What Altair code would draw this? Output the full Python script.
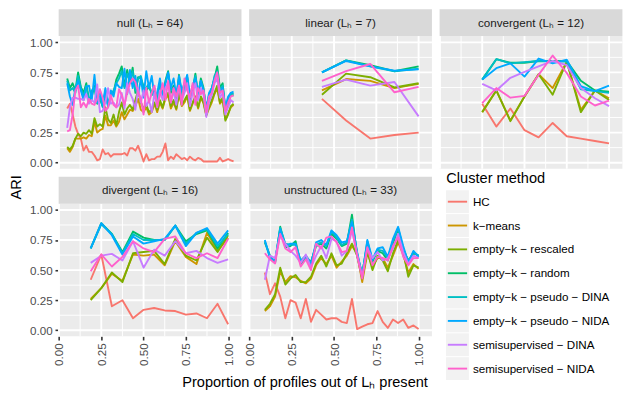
import altair as alt
import pandas as pd

# ---------------- categories ----------------
METHODS = ["HC", "k−means", "empty−k − rescaled", "empty−k − random",
           "empty−k − pseudo − DINA", "empty−k − pseudo − NIDA",
           "semisupervised − DINA", "semisupervised − NIDA"]
COLORS = ["#F8766D", "#CD9600", "#7CAE00", "#00BE67",
          "#00BFC4", "#00A9FF", "#C77CFF", "#FF61CC"]

PANEL_KEYS = ["null", "linear", "convergent", "divergent", "unstructured"]
PANEL_TITLES = ["null (Lₕ = 64)", "linear (Lₕ = 7)", "convergent (Lₕ = 12)",
                "divergent (Lₕ = 16)", "unstructured (Lₕ = 33)"]
# number of profiles present runs from K_START to K_MAX; proportion = k / denominator
K_START = 3
PANEL_K_MAX = [64, 7, 12, 16, 33]
PANEL_DENOM = [62, 7, 12, 16, 33]

X_TICKS = [0, 0.25, 0.5, 0.75, 1.0]
X_MINOR = [0.125, 0.375, 0.625, 0.875]
Y_TICKS = [0, 0.25, 0.5, 0.75, 1.0]
Y_MINOR = [0.125, 0.375, 0.625, 0.875]

# ---------------- null (k = 3..64) ----------------
null_hc = [0.45, 0.49, 0.40, 0.30, 0.24, 0.20, 0.10, 0.14, 0.09, 0.09,
           0.06, 0.02, 0.03, 0.11, 0.07, 0.08, 0.05, 0.07, 0.07, 0.07,
           0.07, 0.08, 0.06, 0.12, 0.12, 0.10, 0.14, 0.08, 0.01, 0.07,
           0.02, 0.03, 0.03, 0.05, 0.05, 0.09, 0.16, 0.02, 0.05, 0.03,
           0.07, 0.05, 0.03, 0.04, 0.02, 0.05, 0.03, 0.02, 0.04, 0.03,
           0.01, 0.01, 0.01, 0.01, 0.01, 0.01, 0.04, 0.01, 0.02, 0.03,
           0.02, 0.01]
null_kmeans = [0.12, 0.09, 0.13, 0.20, 0.20, 0.20, 0.21, 0.20, 0.23, 0.22,
               0.34, 0.25, 0.27, 0.28, 0.39, 0.31, 0.31, 0.35, 0.30, 0.34,
               0.42, 0.36, 0.40, 0.44, 0.43, 0.47, 0.53, 0.44, 0.42, 0.46,
               0.40, 0.42, 0.49, 0.42, 0.50, 0.45, 0.53, 0.56, 0.45, 0.50,
               0.44, 0.57, 0.47, 0.50, 0.55, 0.43, 0.49, 0.54, 0.45, 0.54,
               0.49, 0.39, 0.45, 0.50, 0.57, 0.62, 0.49, 0.52, 0.36, 0.41,
               0.46, 0.48]
null_rescaled = [0.13, 0.11, 0.14, 0.20, 0.24, 0.22, 0.25, 0.24, 0.27, 0.24,
                 0.37, 0.30, 0.32, 0.30, 0.46, 0.36, 0.33, 0.40, 0.31, 0.42,
                 0.50, 0.40, 0.45, 0.48, 0.44, 0.52, 0.60, 0.50, 0.45, 0.48,
                 0.42, 0.44, 0.50, 0.44, 0.52, 0.46, 0.55, 0.58, 0.47, 0.52,
                 0.45, 0.58, 0.48, 0.52, 0.56, 0.44, 0.50, 0.55, 0.46, 0.55,
                 0.50, 0.40, 0.46, 0.52, 0.58, 0.64, 0.50, 0.54, 0.35, 0.40,
                 0.47, 0.49]
null_random = [0.70, 0.62, 0.66, 0.60, 0.75, 0.63, 0.58, 0.66, 0.52, 0.55,
               0.64, 0.49, 0.53, 0.47, 0.57, 0.48, 0.57, 0.58, 0.69, 0.74,
               0.80, 0.63, 0.77, 0.66, 0.79, 0.58, 0.71, 0.70, 0.63, 0.60,
               0.63, 0.58, 0.62, 0.50, 0.66, 0.55, 0.68, 0.76, 0.58, 0.64,
               0.52, 0.73, 0.55, 0.60, 0.71, 0.52, 0.60, 0.74, 0.55, 0.70,
               0.62, 0.40, 0.55, 0.62, 0.70, 0.80, 0.62, 0.66, 0.42, 0.50,
               0.56, 0.56]
null_pdina = [0.68, 0.60, 0.62, 0.58, 0.72, 0.62, 0.55, 0.64, 0.50, 0.60,
              0.62, 0.50, 0.55, 0.46, 0.60, 0.47, 0.56, 0.60, 0.66, 0.70,
              0.76, 0.62, 0.74, 0.68, 0.76, 0.60, 0.70, 0.72, 0.62, 0.62,
              0.66, 0.56, 0.60, 0.52, 0.64, 0.56, 0.66, 0.74, 0.60, 0.62,
              0.54, 0.70, 0.57, 0.62, 0.70, 0.53, 0.62, 0.72, 0.57, 0.68,
              0.60, 0.44, 0.56, 0.60, 0.72, 0.76, 0.60, 0.64, 0.44, 0.52,
              0.58, 0.57]
null_pnida = [0.66, 0.55, 0.48, 0.62, 0.68, 0.60, 0.52, 0.63, 0.64, 0.52,
              0.73, 0.50, 0.60, 0.48, 0.62, 0.46, 0.60, 0.55, 0.66, 0.63,
              0.62, 0.78, 0.57, 0.77, 0.62, 0.72, 0.56, 0.70, 0.54, 0.76,
              0.62, 0.72, 0.55, 0.58, 0.70, 0.54, 0.66, 0.75, 0.62, 0.70,
              0.56, 0.72, 0.60, 0.66, 0.73, 0.55, 0.64, 0.70, 0.58, 0.68,
              0.60, 0.45, 0.58, 0.62, 0.70, 0.74, 0.58, 0.62, 0.46, 0.55,
              0.58, 0.59]
null_sdina = [0.29, 0.46, 0.54, 0.54, 0.53, 0.53, 0.52, 0.57, 0.49, 0.52,
              0.50, 0.65, 0.42, 0.43, 0.50, 0.62, 0.49, 0.50, 0.46, 0.48,
              0.58, 0.45, 0.66, 0.58, 0.53, 0.44, 0.62, 0.50, 0.60, 0.47,
              0.52, 0.42, 0.58, 0.46, 0.60, 0.52, 0.62, 0.66, 0.50, 0.60,
              0.48, 0.64, 0.52, 0.58, 0.66, 0.47, 0.58, 0.66, 0.52, 0.62,
              0.56, 0.38, 0.50, 0.56, 0.66, 0.70, 0.54, 0.58, 0.40, 0.46,
              0.52, 0.50]
null_snida = [0.26, 0.27, 0.40, 0.60, 0.64, 0.46, 0.50, 0.46, 0.53, 0.49,
              0.48, 0.53, 0.61, 0.54, 0.43, 0.46, 0.56, 0.48, 0.46, 0.61,
              0.56, 0.48, 0.58, 0.66, 0.70, 0.67, 0.58, 0.53, 0.40, 0.62,
              0.50, 0.58, 0.64, 0.47, 0.56, 0.66, 0.52, 0.68, 0.50, 0.62,
              0.55, 0.64, 0.48, 0.70, 0.60, 0.54, 0.66, 0.48, 0.62, 0.57,
              0.60, 0.42, 0.55, 0.58, 0.68, 0.75, 0.58, 0.60, 0.43, 0.50,
              0.55, 0.56]

# ---------------- linear (k = 3..7) ----------------
linear_hc = [0.53, 0.35, 0.20, 0.23, 0.25]
linear_kmeans = [0.60, 0.695, 0.68, 0.62, 0.655]
linear_rescaled = [0.565, 0.74, 0.71, 0.625, 0.66]
linear_random = [0.75, 0.85, 0.81, 0.76, 0.80]
linear_pdina = [0.75, 0.85, 0.80, 0.76, 0.78]
linear_pnida = [0.75, 0.845, 0.80, 0.765, 0.775]
linear_sdina = [0.63, 0.69, 0.64, 0.67, 0.385]
linear_snida = [0.68, 0.76, 0.82, 0.585, 0.63]

# ---------------- convergent (k = 3..12) ----------------
conv_hc = [0.49, 0.30, 0.45, 0.27, 0.21, 0.33, 0.22, 0.20, 0.18, 0.16]
conv_kmeans = [0.42, 0.60, 0.35, 0.55, 0.735, 0.62, 0.84, 0.44, 0.60, 0.535]
conv_rescaled = [0.42, 0.60, 0.345, 0.55, 0.735, 0.565, 0.84, 0.42, 0.60, 0.52]
conv_random = [0.69, 0.86, 0.83, 0.83, 0.845, 0.845, 0.845, 0.68, 0.60, 0.59]
conv_pdina = [0.69, 0.86, 0.825, 0.835, 0.845, 0.84, 0.84, 0.61, 0.595, 0.58]
conv_pnida = [0.69, 0.785, 0.825, 0.715, 0.865, 0.825, 0.855, 0.635, 0.595, 0.64]
conv_sdina = [0.655, 0.60, 0.705, 0.755, 0.80, 0.845, 0.81, 0.62, 0.535, 0.47]
conv_snida = [0.495, 0.62, 0.54, 0.555, 0.73, 0.89, 0.745, 0.55, 0.475, 0.515]

# ---------------- divergent (k = 3..16) ----------------
div_hc = [0.42, 0.63, 0.20, 0.25, 0.10, 0.17, 0.185, 0.165, 0.16, 0.13, 0.14, 0.10, 0.22, 0.05]
div_kmeans = [0.26, 0.35, 0.47, 0.41, 0.63, 0.62, 0.63, 0.54, 0.74, 0.61, 0.55, 0.81, 0.66, 0.77]
div_rescaled = [0.25, 0.35, 0.48, 0.40, 0.64, 0.65, 0.66, 0.55, 0.76, 0.62, 0.58, 0.77, 0.65, 0.79]
div_random = [0.68, 0.89, 0.80, 0.65, 0.82, 0.77, 0.75, 0.75, 0.87, 0.74, 0.80, 0.83, 0.68, 0.81]
div_pdina = [0.68, 0.88, 0.80, 0.64, 0.80, 0.75, 0.75, 0.75, 0.87, 0.72, 0.81, 0.84, 0.70, 0.80]
div_pnida = [0.68, 0.89, 0.79, 0.63, 0.78, 0.72, 0.74, 0.76, 0.87, 0.70, 0.81, 0.85, 0.72, 0.83]
div_sdina = [0.56, 0.62, 0.635, 0.58, 0.74, 0.52, 0.67, 0.62, 0.74, 0.64, 0.66, 0.60, 0.56, 0.59]
div_snida = [0.49, 0.63, 0.53, 0.61, 0.74, 0.68, 0.65, 0.76, 0.78, 0.64, 0.60, 0.64, 0.60, 0.76]

# ---------------- unstructured (k = 3..33) ----------------
uns_hc = [0.48, 0.30, 0.39, 0.28, 0.10, 0.25, 0.23, 0.10, 0.26, 0.07,
          0.17, 0.13, 0.09, 0.10, 0.10, 0.07, 0.06, 0.26, 0.01, 0.03,
          0.05, 0.06, 0.16, 0.07, 0.02, 0.09, 0.06, 0.09, 0.02, 0.04,
          0.01]
uns_kmeans = [0.16, 0.20, 0.28, 0.49, 0.40, 0.45, 0.44, 0.41, 0.39, 0.43,
              0.54, 0.60, 0.55, 0.62, 0.52, 0.57, 0.62, 0.70, 0.64, 0.40,
              0.64, 0.53, 0.60, 0.60, 0.52, 0.62, 0.73, 0.63, 0.48, 0.55,
              0.51]
uns_rescaled = [0.17, 0.22, 0.30, 0.52, 0.38, 0.43, 0.46, 0.40, 0.40, 0.445,
                0.555, 0.62, 0.53, 0.64, 0.54, 0.555, 0.64, 0.72, 0.62, 0.43,
                0.66, 0.50, 0.62, 0.58, 0.49, 0.64, 0.75, 0.65, 0.445, 0.54,
                0.52]
uns_random = [0.73, 0.62, 0.56, 0.86, 0.69, 0.70, 0.74, 0.55, 0.60, 0.57,
              0.70, 0.72, 0.68, 0.80, 0.76, 0.70, 0.72, 0.96, 0.62, 0.47,
              0.72, 0.57, 0.66, 0.64, 0.58, 0.72, 0.84, 0.67, 0.58, 0.64,
              0.62]
uns_pdina = [0.74, 0.61, 0.57, 0.85, 0.72, 0.71, 0.71, 0.58, 0.62, 0.56,
             0.71, 0.73, 0.70, 0.82, 0.77, 0.71, 0.73, 0.92, 0.64, 0.46,
             0.74, 0.58, 0.67, 0.66, 0.60, 0.74, 0.85, 0.68, 0.57, 0.65,
             0.62]
uns_pnida = [0.75, 0.60, 0.58, 0.84, 0.70, 0.72, 0.72, 0.57, 0.61, 0.55,
             0.73, 0.75, 0.71, 0.83, 0.79, 0.73, 0.74, 0.90, 0.65, 0.45,
             0.75, 0.59, 0.68, 0.69, 0.61, 0.76, 0.86, 0.70, 0.56, 0.66,
             0.61]
uns_sdina = [0.42, 0.62, 0.60, 0.79, 0.72, 0.66, 0.62, 0.56, 0.63, 0.52,
             0.62, 0.70, 0.60, 0.76, 0.74, 0.62, 0.66, 0.83, 0.63, 0.45,
             0.68, 0.60, 0.65, 0.58, 0.60, 0.68, 0.80, 0.65, 0.55, 0.62,
             0.60]
uns_snida = [0.64, 0.59, 0.555, 0.80, 0.68, 0.65, 0.69, 0.53, 0.59, 0.50,
             0.72, 0.68, 0.77, 0.78, 0.73, 0.65, 0.66, 0.855, 0.62, 0.43,
             0.69, 0.54, 0.61, 0.60, 0.58, 0.70, 0.77, 0.61, 0.54, 0.60,
             0.60]

SERIES = {
    "null": [null_hc, null_kmeans, null_rescaled, null_random,
             null_pdina, null_pnida, null_sdina, null_snida],
    "linear": [linear_hc, linear_kmeans, linear_rescaled, linear_random,
               linear_pdina, linear_pnida, linear_sdina, linear_snida],
    "convergent": [conv_hc, conv_kmeans, conv_rescaled, conv_random,
                   conv_pdina, conv_pnida, conv_sdina, conv_snida],
    "divergent": [div_hc, div_kmeans, div_rescaled, div_random,
                  div_pdina, div_pnida, div_sdina, div_snida],
    "unstructured": [uns_hc, uns_kmeans, uns_rescaled, uns_random,
                     uns_pdina, uns_pnida, uns_sdina, uns_snida],
}

rows = []
for key, kmax, den in zip(PANEL_KEYS, PANEL_K_MAX, PANEL_DENOM):
    ks = list(range(K_START, kmax + 1))
    for m, vals in zip(METHODS, SERIES[key]):
        if len(vals) != len(ks):
            raise ValueError(f"{key} / {m}: {len(vals)} values for {len(ks)} points")
        for k, v in zip(ks, vals):
            rows.append({"panel": key, "method": m, "x": k / den, "y": v})
df = pd.DataFrame(rows)

# ---------------- styling ----------------
FONT = "Liberation Sans"
W = 184          # panel width
S = 27           # strip height
H = 160.5        # strip + panel height
XS = alt.Scale(domain=[-0.002, 1.079], nice=False, zero=False)
YS = alt.Scale(domain=[-0.05, 1.052], range=[H, S], nice=False, zero=False)
CS = alt.Scale(domain=METHODS, range=COLORS)

gx_major = pd.DataFrame({"v": X_TICKS})
gx_minor = pd.DataFrame({"v": X_MINOR})
gy_major = pd.DataFrame({"v": Y_TICKS})
gy_minor = pd.DataFrame({"v": Y_MINOR})


def x_axis(with_title):
    kw = dict(values=X_TICKS, format=".2f", labelAngle=270, labelAlign="right",
              labelBaseline="middle", labelFontSize=11.7, labelColor="#4D4D4D",
              labelFont=FONT, labelPadding=2.9, labelFlush=False, labelOverlap=False,
              tickSize=3.7, tickColor="#333333", tickWidth=1.6,
              domain=False, grid=False)
    if with_title:
        kw.update(title="Proportion of profiles out of Lₕ present", titleX=247.5,
                  titleY=50.5, titleAlign="center", titleBaseline="alphabetic",
                  titleAngle=0, titleFont=FONT, titleFontSize=14.67,
                  titleFontWeight="normal", titleColor="black")
    else:
        kw.update(title=None)
    return alt.Axis(**kw)


def y_axis(with_title):
    kw = dict(values=Y_TICKS, format=".2f", labelFontSize=11.7, labelColor="#4D4D4D",
              labelFont=FONT, labelPadding=2.9, labelFlush=False, labelOverlap=False,
              tickSize=3.7, tickColor="#333333", tickWidth=1.6,
              domain=False, grid=False)
    if with_title:
        kw.update(title="ARI", titleX=-38.5, titleY=10, titleAngle=270,
                  titleAlign="center", titleBaseline="alphabetic", titleFont=FONT,
                  titleFontSize=14.67, titleFontWeight="normal", titleColor="black")
    else:
        kw.update(title=None)
    return alt.Axis(**kw)


def panel(i):
    key = PANEL_KEYS[i]
    left = i in (0, 3)
    bottom = i in (3, 4)
    xax = x_axis(i == 3) if bottom else None
    yax = y_axis(i == 3) if left else None
    one = pd.DataFrame({"t": [PANEL_TITLES[i]]})

    bg = alt.Chart(one).mark_rect(color="#EBEBEB").encode(
        x=alt.value(0), x2=alt.value(W), y=alt.value(S), y2=alt.value(H))
    vmin = alt.Chart(gx_minor).mark_rule(color="white", strokeWidth=0.95).encode(
        x=alt.X("v:Q", scale=XS, axis=xax), y=alt.value(S), y2=alt.value(H))
    hmin = alt.Chart(gy_minor).mark_rule(color="white", strokeWidth=0.95).encode(
        y=alt.Y("v:Q", scale=YS, axis=yax), x=alt.value(0), x2=alt.value(W))
    vmaj = alt.Chart(gx_major).mark_rule(color="white", strokeWidth=1.9).encode(
        x=alt.X("v:Q", scale=XS, axis=xax), y=alt.value(S), y2=alt.value(H))
    hmaj = alt.Chart(gy_major).mark_rule(color="white", strokeWidth=1.9).encode(
        y=alt.Y("v:Q", scale=YS, axis=yax), x=alt.value(0), x2=alt.value(W))

    lines = alt.Chart(df).transform_filter(
        alt.FieldEqualPredicate(field="panel", equal=key)
    ).mark_line(strokeWidth=1.9, strokeJoin="round").encode(
        x=alt.X("x:Q", scale=XS, axis=xax),
        y=alt.Y("y:Q", scale=YS, axis=yax),
        color=alt.Color("method:N", scale=CS, legend=None),
    )

    strip = alt.Chart(one).mark_rect(color="#D9D9D9").encode(
        x=alt.value(0), x2=alt.value(W), y=alt.value(0), y2=alt.value(S))
    stext = alt.Chart(one).mark_text(font=FONT, fontSize=11.7, color="#1A1A1A",
                                     baseline="middle", align="center").encode(
        x=alt.value(W / 2), y=alt.value(S / 2), text="t:N")
    return alt.layer(bg, vmin, hmin, vmaj, hmaj, lines, strip, stext).properties(
        width=W, height=H)


# ---------------- legend (in the empty sixth cell) ----------------
legend_df = pd.DataFrame({"method": METHODS, "idx": list(range(len(METHODS)))})
legend_title = pd.DataFrame({"t": ["Cluster method"]})
LY = alt.Scale(domain=[0, 7], range=[25, 193], nice=False, zero=False)

keys = alt.Chart(legend_df).mark_square(size=529, color="#F2F2F2", opacity=1).encode(
    x=alt.value(18), y=alt.Y("idx:Q", scale=LY, axis=None))
key_lines = alt.Chart(legend_df).mark_rule(strokeWidth=1.9).encode(
    x=alt.value(8.3), x2=alt.value(27.7), y=alt.Y("idx:Q", scale=LY, axis=None),
    color=alt.Color("method:N", scale=CS, legend=None))
key_text = alt.Chart(legend_df).mark_text(font=FONT, fontSize=11.7, color="black",
                                          align="left", baseline="middle").encode(
    x=alt.value(33.5), y=alt.Y("idx:Q", scale=LY, axis=None), text="method:N")
ltitle = alt.Chart(legend_title).mark_text(font=FONT, fontSize=14.67, color="black",
                                           align="left", baseline="alphabetic").encode(
    x=alt.value(6.8), y=alt.value(6), text="t:N")
legend = alt.layer(keys, key_lines, key_text, ltitle).properties(width=W, height=H)

chart = alt.concat(panel(0), panel(1), panel(2), panel(3), panel(4), legend,
                   columns=3, spacing=7.7, bounds="flush").properties(
    padding=0).configure_view(strokeWidth=0)

chart.save("out.html", embed_options={"renderer": "svg", "actions": False})
